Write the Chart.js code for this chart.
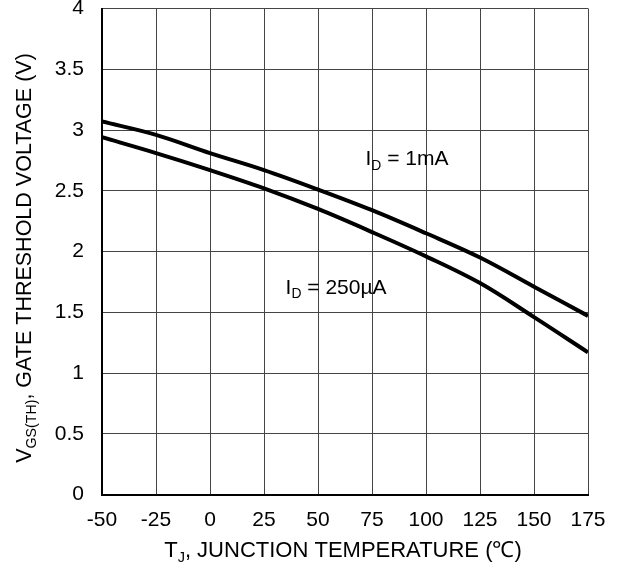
<!DOCTYPE html>
<html>
<head>
<meta charset="utf-8">
<script src="https://cdn.jsdelivr.net/npm/chart.js@4"></script>
<style>
  html, body { margin: 0; padding: 0; background: #fff; }
  #wrap { width: 623px; height: 569px; }
</style>
</head>
<body>
<div id="wrap"><canvas id="myChart" width="623" height="569"></canvas></div>
<script>
const temps = [-50, -25, 0, 25, 50, 75, 100, 125, 150, 175];
const vth1mA = [3.07, 2.96, 2.81, 2.67, 2.51, 2.34, 2.15, 1.95, 1.71, 1.47];
const vth250uA = [2.94, 2.81, 2.67, 2.52, 2.35, 2.16, 1.96, 1.74, 1.46, 1.17];
const xTicks = [-50, -25, 0, 25, 50, 75, 100, 125, 150, 175];
const yTicks = [0, 0.5, 1, 1.5, 2, 2.5, 3, 3.5, 4];

const FONT = '"Liberation Sans", Arial, sans-serif';

function pts(ys) {
  return temps.map((t, i) => ({ x: t, y: ys[i] }));
}

// text with subscript parts: [[text, isSub], ...]
function drawRich(ctx, parts, x, y, size, align) {
  const sub = size * 0.66;
  let w = 0;
  parts.forEach(p => {
    ctx.font = (p[1] ? sub : size) + 'px ' + FONT;
    w += ctx.measureText(p[0]).width;
  });
  let cx = align === 'left' ? x : x - w / 2;
  parts.forEach(p => {
    ctx.font = (p[1] ? sub : size) + 'px ' + FONT;
    ctx.fillText(p[0], cx, p[1] ? y + size * 0.32 : y);
    cx += ctx.measureText(p[0]).width;
  });
}

const labels = {
  id: 'labels',
  afterDraw(chart) {
    const ctx = chart.ctx;
    const xs = chart.scales.x, ys = chart.scales.y;
    ctx.save();
    ctx.fillStyle = '#000';
    ctx.textBaseline = 'middle';
    ctx.textAlign = 'left';

    drawRich(ctx, [['I', false], ['D', true], [' = 1mA', false]],
      xs.getPixelForValue(72), ys.getPixelForValue(2.76), 21, 'left');
    drawRich(ctx, [['I', false], ['D', true], [' = 250µA', false]],
      xs.getPixelForValue(35), ys.getPixelForValue(1.7), 21, 'left');

    // x axis title
    drawRich(ctx, [['T', false], ['J', true], [', JUNCTION TEMPERATURE (℃)', false]],
      343, 551, 22);

    // y axis title
    ctx.translate(25, 258);
    ctx.rotate(-Math.PI / 2);
    drawRich(ctx, [['V', false], ['GS(TH)', true], [', GATE THRESHOLD VOLTAGE (V)', false]], 0, 0, 21.5);
    ctx.restore();
  }
};

const ctx = document.getElementById('myChart');
new Chart(ctx, {
  type: 'scatter',
  data: {
    datasets: [
      { label: 'ID = 1mA', data: pts(vth1mA) },
      { label: 'ID = 250uA', data: pts(vth250uA) }
    ].map(d => Object.assign(d, {
      showLine: true,
      borderColor: '#000',
      borderWidth: 4,
      pointRadius: 0,
      tension: 0.35,
      fill: false
    }))
  },
  options: {
    responsive: false,
    animation: false,
    layout: { padding: { top: 8.5, right: 35, left: 0, bottom: 0 } },
    plugins: { legend: { display: false }, tooltip: { enabled: false } },
    scales: {
      x: {
        type: 'linear',
        min: -50, max: 175,
        afterBuildTicks: s => { s.ticks = xTicks.map(v => ({ value: v })); },
        afterFit: s => { s.height = 74.5; s.paddingLeft = 0; s.paddingRight = 0; },
        grid: { color: '#444', lineWidth: 1, drawTicks: false },
        border: { color: '#000', width: 2 },
        ticks: { color: '#000', font: { family: FONT, size: 21 }, padding: 13, maxRotation: 0,
                 callback: v => String(v) }
      },
      y: {
        min: 0, max: 4,
        afterBuildTicks: s => { s.ticks = yTicks.map(v => ({ value: v })); },
        afterFit: s => { s.width = 102; s.paddingTop = 0; s.paddingBottom = 0; },
        grid: { color: '#444', lineWidth: 1, drawTicks: false },
        border: { color: '#000', width: 2 },
        ticks: { color: '#000', font: { family: FONT, size: 21 }, padding: 18,
                 callback: v => String(v) }
      }
    }
  },
  plugins: [labels]
});
</script>
</body>
</html>
